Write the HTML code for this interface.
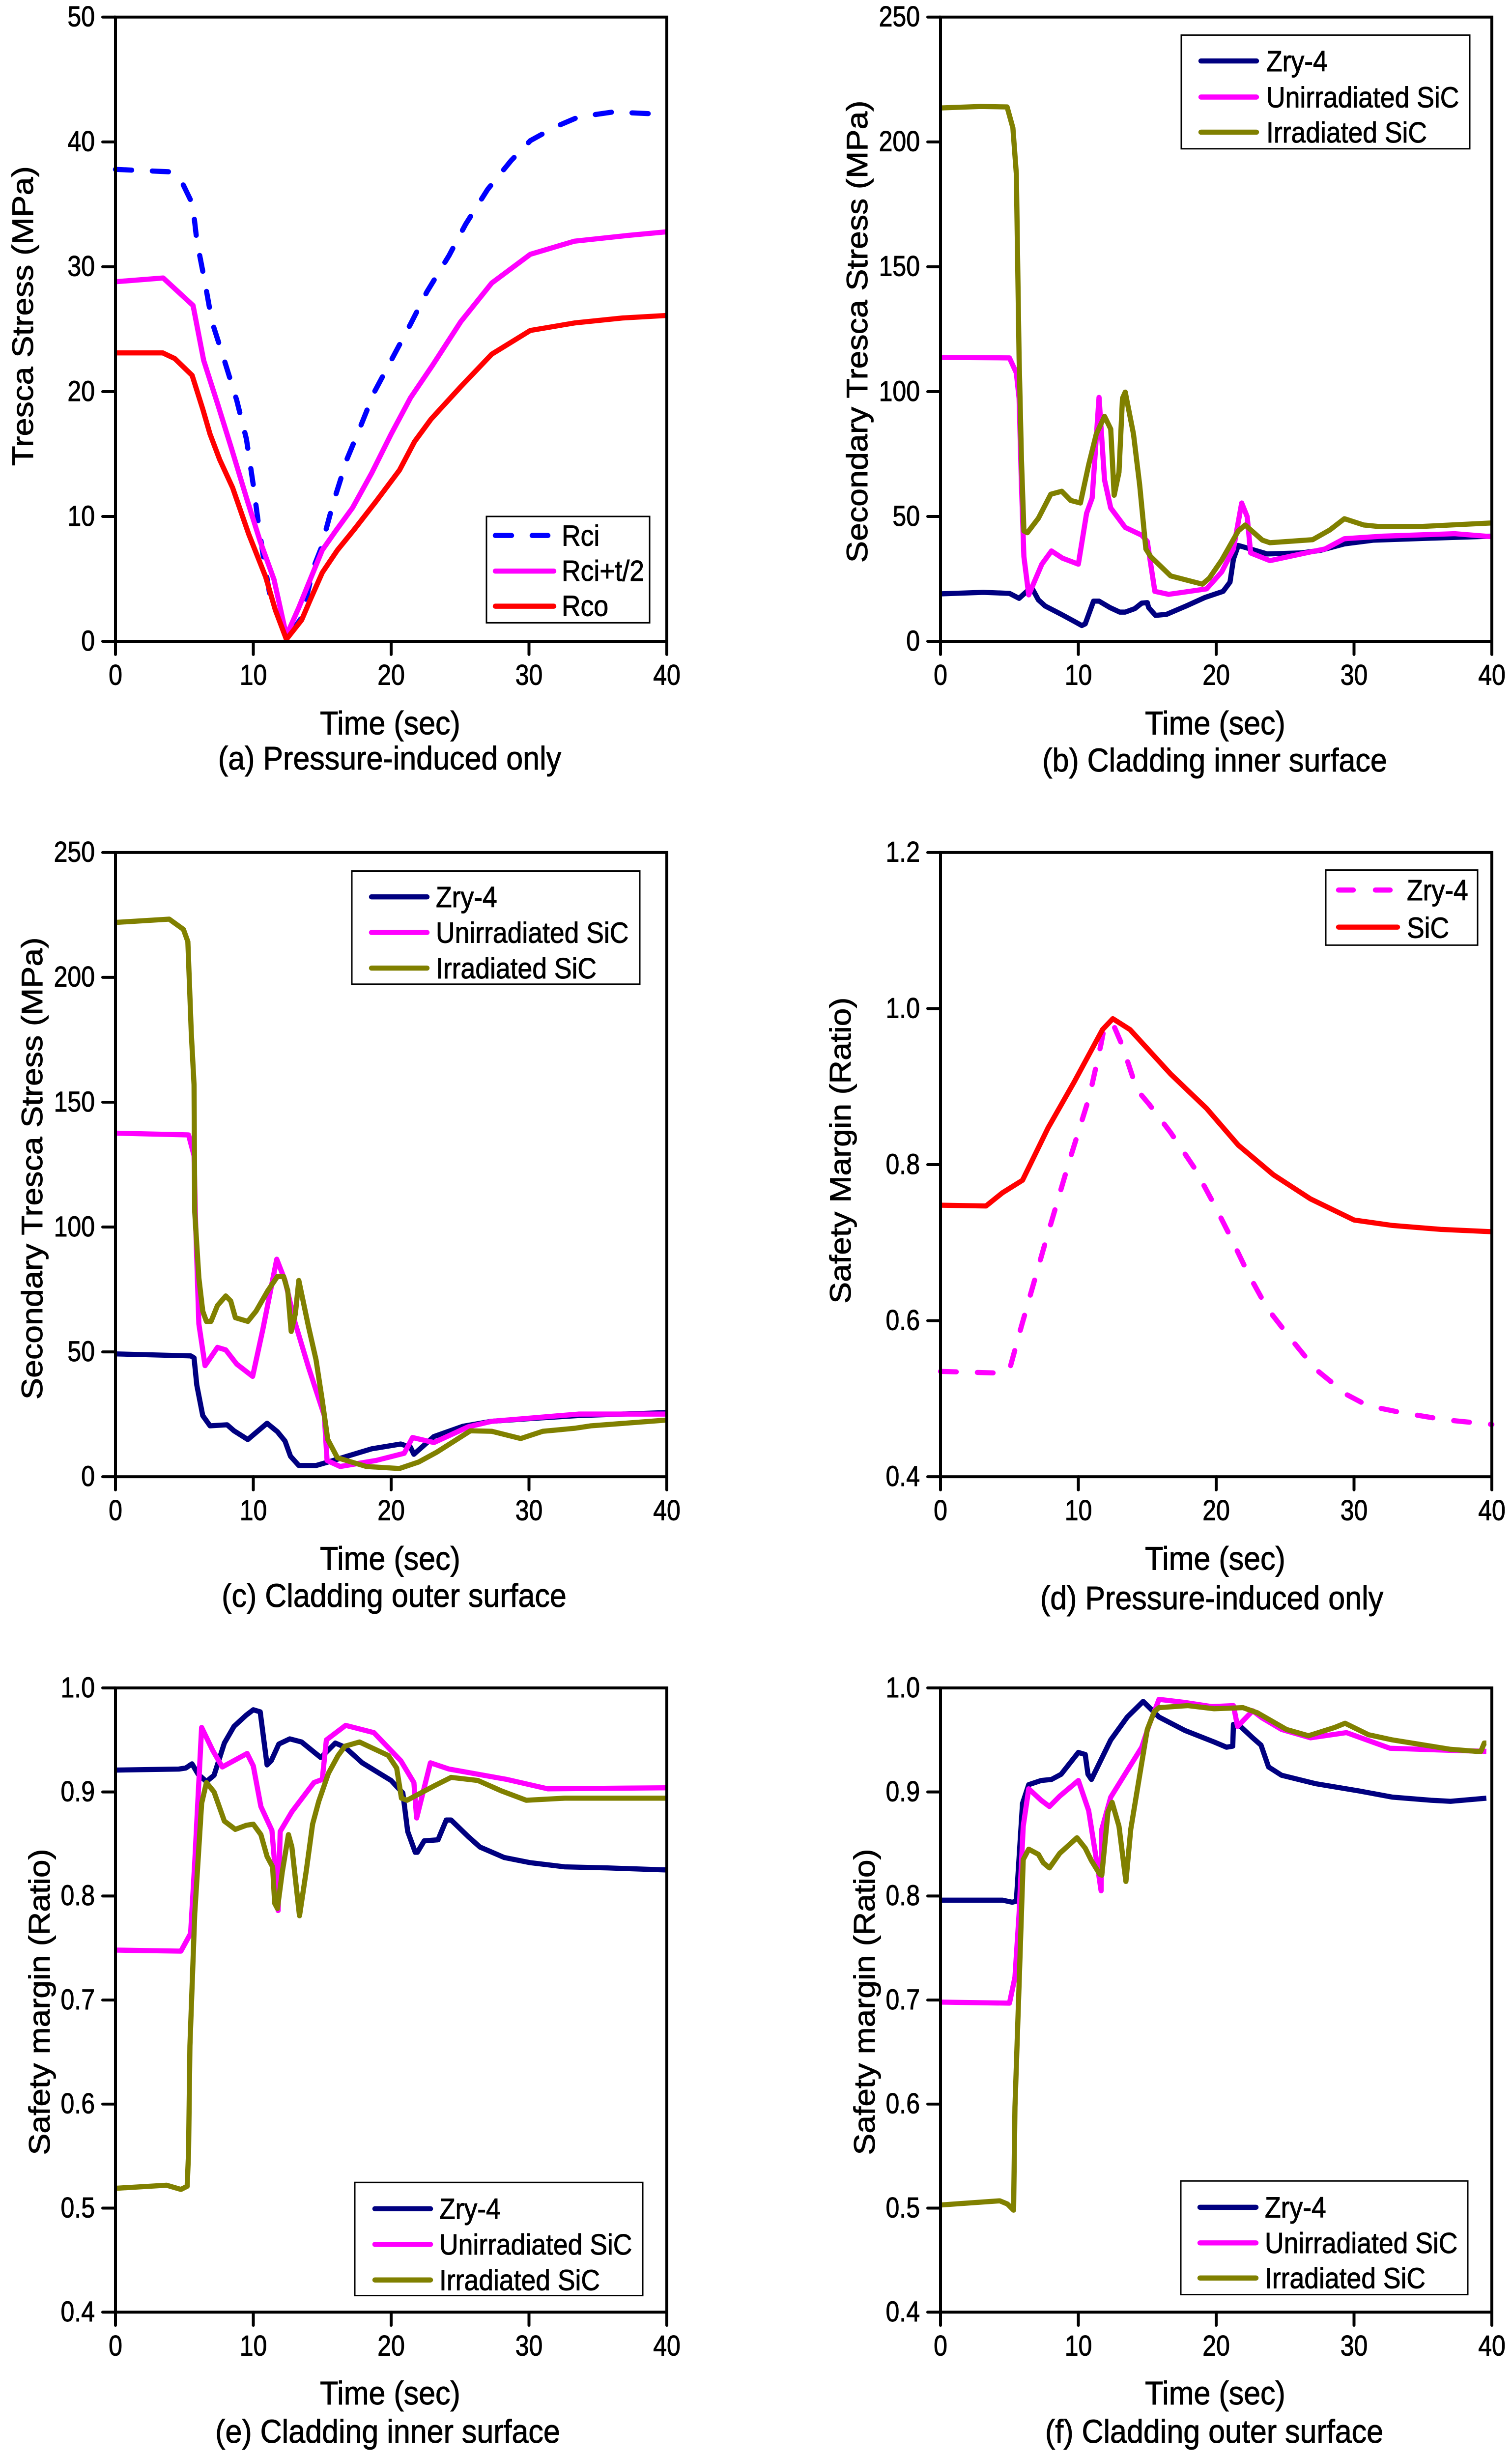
<!DOCTYPE html>
<html lang="en">
<head>
<meta charset="utf-8">
<title>Tresca stress and safety margin charts</title>
<style>
html,body{margin:0;padding:0;background:#fff;width:100%;height:100%;overflow:hidden;}
svg{display:block;position:absolute;left:0;top:0;width:100vw;height:100vh;overflow:hidden;}
text{font-family:"Liberation Sans",Arial,sans-serif;fill:#000;stroke:#000;stroke-width:0.9;}
.lbox{fill:#fff;stroke:#000;stroke-width:3;}
.leg{font-size:53.5px;}
.cap{font-size:61px;text-anchor:middle;}
.yt{font-size:60px;text-anchor:middle;}
.ll{stroke-width:10.5;stroke-linecap:round;fill:none;}
</style>
</head>
<body>
<svg id="figure" xmlns="http://www.w3.org/2000/svg" viewBox="0 0 3077 5038" preserveAspectRatio="none">
<rect width="3077" height="5038" fill="#fff"/>
<g id="marks"></g>

<!-- Panel a -->
<g>
<text class="yt" transform="translate(67,648) rotate(-90) scale(1.122,1)">Tresca Stress (MPa)</text>
<text class="cap" transform="translate(794,1506) scale(1,1.11)">Time (sec)</text>
<text class="cap" transform="translate(793,1578) scale(1,1.11)">(a) Pressure-induced only</text>
</g>
<g>
<rect class="lbox" x="990" y="1059" width="332" height="218"/>
<line class="ll" x1="1008" x2="1115" y1="1098" y2="1098" stroke="#0000ff" stroke-dasharray="33 42"/>
<line class="ll" x1="1008" x2="1127" y1="1171" y2="1171" stroke="#ff00ff"/>
<line class="ll" x1="1008" x2="1127" y1="1243" y2="1243" stroke="#ff0000"/>
<text class="leg" transform="translate(1143,1119) scale(1,1.12)">Rci</text>
<text class="leg" transform="translate(1143,1191) scale(1,1.12)">Rci+t/2</text>
<text class="leg" transform="translate(1143,1263) scale(1,1.12)">Rco</text>
</g>

<!-- Panel b -->
<g>
<text class="yt" transform="translate(1765,680) rotate(-90) scale(1.115,1)">Secondary Tresca Stress (MPa)</text>
<text class="cap" transform="translate(2473,1506) scale(1,1.11)">Time (sec)</text>
<text class="cap" transform="translate(2472,1582) scale(1,1.11)">(b) Cladding inner surface</text>
</g>
<g>
<rect class="lbox" x="2404" y="72" width="587" height="233"/>
<line class="ll" x1="2444" x2="2557" y1="125" y2="125" stroke="#000080"/>
<line class="ll" x1="2444" x2="2557" y1="199" y2="199" stroke="#ff00ff"/>
<line class="ll" x1="2444" x2="2557" y1="271" y2="271" stroke="#808000"/>
<text class="leg" transform="translate(2577,146) scale(1,1.12)">Zry-4</text>
<text class="leg" transform="translate(2577,220) scale(1,1.12)">Unirradiated SiC</text>
<text class="leg" transform="translate(2577,292) scale(1,1.12)">Irradiated SiC</text>
</g>

<!-- Panel c -->
<g>
<text class="yt" transform="translate(86,2396) rotate(-90) scale(1.115,1)">Secondary Tresca Stress (MPa)</text>
<text class="cap" transform="translate(794,3219) scale(1,1.11)">Time (sec)</text>
<text class="cap" transform="translate(802,3295) scale(1,1.11)">(c) Cladding outer surface</text>
</g>
<g>
<rect class="lbox" x="716" y="1786" width="586" height="232"/>
<line class="ll" x1="756" x2="869" y1="1839" y2="1839" stroke="#000080"/>
<line class="ll" x1="756" x2="869" y1="1912" y2="1912" stroke="#ff00ff"/>
<line class="ll" x1="756" x2="869" y1="1985" y2="1985" stroke="#808000"/>
<text class="leg" transform="translate(887,1860) scale(1,1.12)">Zry-4</text>
<text class="leg" transform="translate(887,1933) scale(1,1.12)">Unirradiated SiC</text>
<text class="leg" transform="translate(887,2006) scale(1,1.12)">Irradiated SiC</text>
</g>

<!-- Panel d -->
<g>
<text class="yt" transform="translate(1731,2359) rotate(-90) scale(1.108,1)">Safety Margin (Ratio)</text>
<text class="cap" transform="translate(2473,3219) scale(1,1.11)">Time (sec)</text>
<text class="cap" transform="translate(2466,3300) scale(1,1.11)">(d) Pressure-induced only</text>
</g>
<g>
<rect class="lbox" x="2698" y="1784" width="309" height="154"/>
<line class="ll" x1="2724" x2="2844" y1="1825" y2="1825" stroke="#ff00ff" stroke-dasharray="30 45"/>
<line class="ll" x1="2724" x2="2844" y1="1901" y2="1901" stroke="#ff0000"/>
<text class="leg" transform="translate(2863,1846) scale(1,1.12)">Zry-4</text>
<text class="leg" transform="translate(2863,1923) scale(1,1.12)">SiC</text>
</g>

<!-- Panel e -->
<g>
<text class="yt" transform="translate(101,4105) rotate(-90) scale(1.108,1)">Safety margin (Ratio)</text>
<text class="cap" transform="translate(794,4930) scale(1,1.11)">Time (sec)</text>
<text class="cap" transform="translate(789,5009) scale(1,1.11)">(e) Cladding inner surface</text>
</g>
<g>
<rect class="lbox" x="722" y="4475" width="586" height="232"/>
<line class="ll" x1="763" x2="876" y1="4529" y2="4529" stroke="#000080"/>
<line class="ll" x1="763" x2="876" y1="4602" y2="4602" stroke="#ff00ff"/>
<line class="ll" x1="763" x2="876" y1="4675" y2="4675" stroke="#808000"/>
<text class="leg" transform="translate(894,4550) scale(1,1.12)">Zry-4</text>
<text class="leg" transform="translate(894,4623) scale(1,1.12)">Unirradiated SiC</text>
<text class="leg" transform="translate(894,4696) scale(1,1.12)">Irradiated SiC</text>
</g>

<!-- Panel f -->
<g>
<text class="yt" transform="translate(1780,4105) rotate(-90) scale(1.108,1)">Safety margin (Ratio)</text>
<text class="cap" transform="translate(2473,4930) scale(1,1.11)">Time (sec)</text>
<text class="cap" transform="translate(2471,5009) scale(1,1.11)">(f) Cladding outer surface</text>
</g>
<g>
<rect class="lbox" x="2403" y="4472" width="584" height="233"/>
<line class="ll" x1="2442" x2="2556" y1="4526" y2="4526" stroke="#000080"/>
<line class="ll" x1="2442" x2="2556" y1="4599" y2="4599" stroke="#ff00ff"/>
<line class="ll" x1="2442" x2="2556" y1="4671" y2="4671" stroke="#808000"/>
<text class="leg" transform="translate(2574,4547) scale(1,1.12)">Zry-4</text>
<text class="leg" transform="translate(2574,4620) scale(1,1.12)">Unirradiated SiC</text>
<text class="leg" transform="translate(2574,4692) scale(1,1.12)">Irradiated SiC</text>
</g>
</svg>

<script>
// Tick labels
const timeTicks = ["0", "10", "20", "30", "40"];
const stress50Ticks = ["0", "10", "20", "30", "40", "50"];
const stress250Ticks = ["0", "50", "100", "150", "200", "250"];
const ratio12Ticks = ["0.4", "0.6", "0.8", "1.0", "1.2"];
const ratio10Ticks = ["0.4", "0.5", "0.6", "0.7", "0.8", "0.9", "1.0"];

// Panel a: pressure-induced Tresca stress (sec, MPa)
const aRciTime = [0,4.05,4.9,5.6,5.9,6.5,7,7.9,8.8,9.5,10,10.35,10.7,11.2,12.45,13.5,14.4,14.9,15.8,16.8,17.7,18.75,20,21.4,22.6,24.2,25.4,27,28.7,30.1,31.9,33.6,36.1,40];
const aRciStress = [37.8,37.6,36.6,35,32.1,28.7,25.6,22.5,19.3,16.2,12.5,9.6,7,3.7,0.2,1.9,6,7.4,11.1,14.6,17,19.9,22.5,25.4,28,30.9,33.4,36.2,38.5,40.1,41.2,42,42.4,42.2];
const aMidTime = [0,3.46,5.63,6.4,7.4,8.43,9.5,10.5,11.5,12.4,13.3,14.2,15,15.95,17.2,18.6,20,21.4,23,25.05,27.3,30.1,33.3,37.1,40];
const aMidStress = [28.8,29.1,26.9,22.5,19.05,15.4,11.5,8,4.95,0.45,2.7,5.15,7.3,8.8,10.7,13.5,16.6,19.5,22.1,25.6,28.7,31,32.05,32.5,32.8];
const aRcoTime = [0,3.43,4.3,5.56,6.33,6.86,7.56,8.5,9.66,10.9,11.6,12.4,13.5,14.2,15,16.1,17.35,18.9,20.6,21.7,22.9,25.05,27.3,30.1,33.3,36.8,40];
const aRcoStress = [23.1,23.1,22.65,21.3,18.6,16.6,14.55,12.3,8.6,5.15,2.5,0.16,1.7,3.5,5.5,7.3,9,11.2,13.7,16,17.8,20.4,23,24.9,25.5,25.9,26.1];

// Panel b: cladding inner surface secondary stress
const bZryTime = [0,3.1,5,5.7,6.6,7.1,7.6,8.7,9.7,10.25,10.5,11.1,11.5,12.3,13,13.4,14.1,14.6,15,15.1,15.6,16.4,17.8,19.2,20.5,21,21.25,21.6,22.1,23.7,26.15,27.55,29.3,31.4,35.6,40];
const bZryStress = [19,19.6,19.2,17.2,21.7,16.6,14.1,11,8,6.3,7,16.1,16.1,13.5,11.7,11.7,13.1,15.3,15.5,13.5,10.4,10.8,14.1,17.6,20,23.7,32.9,38.4,37.6,35,35.4,36.4,39,40.5,41.3,42.1];
const bUnTime = [0,5,5.5,5.7,5.87,6.05,6.4,7.35,8.05,8.85,10,10.6,11,11.5,11.9,12.35,13.4,14.6,15,15.55,16.55,19.3,20.4,21.25,21.85,22.25,22.5,23.9,26.5,27.9,29.3,32.1,37.3,40];
const bUnStress = [113.7,113.5,107.5,97.3,62.6,33.9,18.6,30.9,36.2,33.3,30.9,51.3,57.4,97.7,64.6,53.4,45.6,42.5,40,20,18.8,21,27.8,37,55.4,49.9,35.4,32.3,35.4,37,41.1,42.1,43.1,41.9];
const bIrTime = [0,2.9,4.83,5.25,5.5,5.7,5.87,6.05,6.3,7.1,8,8.8,9.45,10.15,10.75,11.3,11.9,12.35,12.6,12.95,13.2,13.4,14,14.45,14.9,15.25,16.7,19,19.5,20.4,21.6,22.1,23.35,23.9,27,28.25,29.3,30.7,31.75,34.9,40];
const bIrStress = [213.6,214.2,214,205.6,187.2,113.7,72.8,44.2,43.5,49.3,58.9,60.1,56.4,55.4,70.7,83,90.1,85,58.5,67.7,97.3,99.8,83,62.6,37,33.9,26.2,22.9,25.3,32.5,44.2,46.6,40.5,39.5,40.7,44.6,49.1,46.6,46,46,47.4];

// Panel c: cladding outer surface secondary stress
const cZryTime = [0,5.46,5.7,5.9,6.33,6.86,8.1,8.6,9.6,10.35,11,11.75,12.3,12.7,13.3,14.55,15.8,16.8,18.6,20.7,21.4,21.65,22.1,23.1,25.2,27.3,30.1,33.6,40];
const cZryStress = [49.2,48.4,47.6,36.7,24.5,20.4,20.8,18.4,14.9,18.4,21.4,18,14.3,8.2,4.5,4.5,6.5,8.2,11.2,13.1,11.8,9,11.2,16.1,20.2,22.2,23.3,24.5,25.7];
const cUnTime = [0,5.3,5.7,5.8,6.05,6.5,7.4,8,8.8,9.95,10.7,11.7,12.3,13,14,15.15,15.35,16.3,18.9,20.95,21.55,23.1,25.6,27.3,30.1,33.6,40];
const cUnStress = [137.6,136.9,128.6,104,61.2,44.5,51.8,50.8,45.1,40.2,59.2,87.1,78.6,62.2,43.9,24.5,6.5,4.1,6.5,9.4,15.7,13.7,20,22.2,23.5,25.1,25.1];
const cIrTime = [0,3.9,4.93,5.25,5.5,5.7,5.75,6.05,6.33,6.6,6.93,7.4,8,8.36,8.7,9.6,10.2,11.05,11.75,12.2,12.5,12.75,13.05,13.3,14,14.55,15,15.4,16.1,18.2,20.6,22,23.3,25.75,27.3,29.4,31,33.3,34.5,40];
const cIrStress = [222,223.3,219.2,214.3,177.6,157,106,79.6,66.3,62.2,62.2,68.6,72.4,70.4,63.7,62.2,66.3,74.5,80.2,80.2,74.5,58.2,65.3,78.6,60.2,46.9,30.6,14.9,7.6,4.1,3.3,5.9,9.8,18.4,18.2,15.3,18.2,19.4,20.4,22.7];

// Panel d: pressure-induced safety margin
const dZryTime = [0,4,5,5.87,7.6,9.35,10.8,11.65,11.9,12.5,13.2,14.25,15.15,16.7,18.45,19.85,21.05,22.3,23.7,25.45,27.2,29.5,31,33.5,36.6,40];
const dZryRatio = [0.535,0.533,0.537,0.593,0.7,0.805,0.887,0.955,0.978,0.981,0.952,0.896,0.877,0.841,0.795,0.749,0.707,0.661,0.616,0.576,0.538,0.505,0.491,0.482,0.473,0.467];
const dSicTime = [0,3.3,4.5,5.95,7.8,9.7,11.75,12.5,13.75,16.7,19.3,21.6,24.15,26.85,30,32.8,36.3,40];
const dSicRatio = [0.748,0.747,0.764,0.78,0.847,0.906,0.973,0.987,0.973,0.916,0.872,0.825,0.787,0.756,0.729,0.722,0.717,0.714];

// Panel e: cladding inner surface safety margin
const eZryTime = [0,4.6,5.1,5.55,6,6.6,7.15,7.9,8.6,9.5,10,10.5,11,11.3,11.85,12.65,13.5,14.9,15.95,16.65,17.9,20,20.85,21.2,21.75,21.9,22.4,23.4,24,24.35,25.6,26.45,28.2,30.1,32.6,35.7,40];
const eZryRatio = [0.921,0.922,0.923,0.927,0.917,0.91,0.916,0.947,0.963,0.974,0.979,0.977,0.926,0.93,0.946,0.951,0.948,0.933,0.947,0.943,0.928,0.911,0.899,0.862,0.842,0.842,0.853,0.854,0.873,0.873,0.857,0.847,0.837,0.832,0.828,0.827,0.825];
const eUnTime = [0,4.75,5.45,5.75,6.25,7.05,7.75,9.55,10,10.55,11.35,11.6,11.8,11.95,12.8,14.4,15,15.3,16.7,18.75,20.7,21.65,21.85,22.85,24.2,28.4,31.35,40];
const eUnRatio = [0.748,0.747,0.764,0.832,0.962,0.94,0.924,0.937,0.925,0.886,0.863,0.823,0.786,0.862,0.881,0.909,0.912,0.95,0.964,0.957,0.93,0.909,0.875,0.928,0.922,0.912,0.903,0.904];
const eIrTime = [0,3.7,4.75,5.2,5.3,5.4,5.75,6.25,6.6,7.15,7.9,8.7,9.5,10,10.55,11,11.4,11.55,11.75,12.1,12.55,12.8,13.35,13.85,14.3,14.75,15.45,16.15,16.65,17.7,19.8,20.4,20.75,21.15,23.15,24.35,26.3,28,29.8,32.6,40];
const eIrRatio = [0.519,0.522,0.518,0.521,0.553,0.656,0.783,0.889,0.909,0.9,0.872,0.864,0.868,0.869,0.859,0.838,0.828,0.793,0.788,0.823,0.859,0.847,0.781,0.825,0.869,0.891,0.918,0.935,0.944,0.948,0.935,0.923,0.894,0.892,0.906,0.914,0.911,0.901,0.892,0.894,0.894];

// Panel f: cladding outer surface safety margin
const fZryTime = [0,4.5,5.2,5.5,5.95,6.4,7.3,8.05,8.75,10,10.5,10.7,10.95,12.35,13.55,14.7,15.85,17.75,19.85,20.75,21.2,21.25,21.6,22.65,23.25,23.8,24.75,27.2,30.35,32.8,35.6,37,39.6];
const fZryRatio = [0.796,0.796,0.794,0.795,0.889,0.907,0.911,0.912,0.917,0.938,0.936,0.917,0.912,0.95,0.972,0.987,0.972,0.959,0.948,0.943,0.944,0.965,0.965,0.952,0.945,0.924,0.916,0.908,0.901,0.895,0.892,0.891,0.894];
const fUnTime = [0,5,5.4,5.7,6,6.4,7.3,7.9,8.65,10,10.75,11.45,11.65,11.7,12.35,14.6,15.15,15.85,17.75,19.7,21.25,21.55,22.65,23.35,24.75,26.85,29.45,32.6,37,39.6];
const fUnRatio = [0.698,0.697,0.722,0.783,0.867,0.903,0.892,0.886,0.896,0.911,0.882,0.823,0.805,0.864,0.895,0.943,0.965,0.989,0.986,0.982,0.983,0.963,0.978,0.971,0.96,0.952,0.957,0.942,0.94,0.939];
const fIrTime = [0,4.3,4.85,5.3,5.4,5.7,6,6.4,7.1,7.45,7.9,8.65,9.9,10.5,10.95,11.55,11.7,12.15,12.45,12.95,13.45,13.8,14.6,15,15.5,15.85,17.95,19.85,21.95,23,25.1,26.7,28.6,29.35,31.05,32.8,37,38.9,39.2,39.45,39.6];
const fIrRatio = [0.503,0.507,0.504,0.498,0.597,0.715,0.835,0.845,0.84,0.832,0.827,0.841,0.856,0.846,0.834,0.821,0.82,0.881,0.89,0.867,0.814,0.864,0.928,0.96,0.977,0.981,0.983,0.98,0.981,0.976,0.96,0.954,0.962,0.966,0.955,0.95,0.941,0.939,0.939,0.947,0.947];

const SVG_NS = "http://www.w3.org/2000/svg";
const NAVY = "#000080", MAGENTA = "#ff00ff", OLIVE = "#808000", RED = "#ff0000", BLUE = "#0000ff";
const marksRoot = document.getElementById("marks");

function drawPanel(id, left, top, yMin, yMax, yLabels, series) {
  const plotW = 1122, plotH = 1280;
  const xScale = function (t) { return left + (t / 40) * plotW; };
  const yScale = function (v) { return top + plotH - ((v - yMin) / (yMax - yMin)) * plotH; };
  const group = document.createElementNS(SVG_NS, "g");
  
  
  marksRoot.appendChild(group);

  series.forEach(function (s) {
    const path = document.createElementNS(SVG_NS, "path");
    
    
    let d = "";
    s.t.forEach(function (t, i) {
      d += (i ? "L" : "M") + xScale(t).toFixed(1) + " " + yScale(s.v[i]).toFixed(1);
    });
    path.setAttribute("d", d);
    path.setAttribute("fill", "none");
    path.setAttribute("stroke", s.color);
    path.setAttribute("stroke-width", "10.5");
    path.setAttribute("stroke-linejoin", "round");
    if (s.dash) {
      path.setAttribute("stroke-dasharray", s.dash);
      path.setAttribute("stroke-linecap", "round");
    }
    group.appendChild(path);
  });

  const frame = document.createElementNS(SVG_NS, "rect");
  
  
  frame.setAttribute("x", left);
  frame.setAttribute("y", top);
  frame.setAttribute("width", plotW);
  frame.setAttribute("height", plotH);
  frame.setAttribute("fill", "none");
  frame.setAttribute("stroke", "#000");
  frame.setAttribute("stroke-width", "6");
  group.appendChild(frame);

  timeTicks.forEach(function (label) {
    const x = xScale(parseFloat(label));
    const tick = document.createElementNS(SVG_NS, "line");
    
    
    tick.setAttribute("x1", x);
    tick.setAttribute("x2", x);
    tick.setAttribute("y1", top + plotH);
    tick.setAttribute("y2", top + plotH + 27);
    tick.setAttribute("stroke", "#000");
    tick.setAttribute("stroke-width", "6");
    tick.setAttribute("stroke-linecap", "round");
    group.appendChild(tick);
    const text = document.createElementNS(SVG_NS, "text");
    
    
    text.setAttribute("transform", "translate(" + x + "," + (top + plotH + 89) + ") scale(1,1.17)");
    text.setAttribute("font-size", "50");
    text.setAttribute("text-anchor", "middle");
    text.textContent = label;
    group.appendChild(text);
  });

  yLabels.forEach(function (label) {
    const y = yScale(parseFloat(label));
    const tick = document.createElementNS(SVG_NS, "line");
    
    
    tick.setAttribute("x1", left - 26);
    tick.setAttribute("x2", left);
    tick.setAttribute("y1", y);
    tick.setAttribute("y2", y);
    tick.setAttribute("stroke", "#000");
    tick.setAttribute("stroke-width", "6");
    tick.setAttribute("stroke-linecap", "round");
    group.appendChild(tick);
    const text = document.createElementNS(SVG_NS, "text");
    
    
    text.setAttribute("transform", "translate(" + (left - 42) + "," + (y + 19) + ") scale(1,1.17)");
    text.setAttribute("font-size", "50");
    text.setAttribute("text-anchor", "end");
    text.textContent = label;
    group.appendChild(text);
  });
}

drawPanel("a", 235, 35, 0, 50, stress50Ticks, [
  {name: "rci", t: aRciTime, v: aRciStress, color: BLUE, dash: "33 42"},
  {name: "rci-t2", t: aMidTime, v: aMidStress, color: MAGENTA},
  {name: "rco", t: aRcoTime, v: aRcoStress, color: RED}
]);
drawPanel("b", 1914, 35, 0, 250, stress250Ticks, [
  {name: "zry-4", t: bZryTime, v: bZryStress, color: NAVY},
  {name: "unirradiated-sic", t: bUnTime, v: bUnStress, color: MAGENTA},
  {name: "irradiated-sic", t: bIrTime, v: bIrStress, color: OLIVE}
]);
drawPanel("c", 235, 1748, 0, 250, stress250Ticks, [
  {name: "zry-4", t: cZryTime, v: cZryStress, color: NAVY},
  {name: "unirradiated-sic", t: cUnTime, v: cUnStress, color: MAGENTA},
  {name: "irradiated-sic", t: cIrTime, v: cIrStress, color: OLIVE}
]);
drawPanel("d", 1914, 1748, 0.4, 1.2, ratio12Ticks, [
  {name: "zry-4", t: dZryTime, v: dZryRatio, color: MAGENTA, dash: "32 43"},
  {name: "sic", t: dSicTime, v: dSicRatio, color: RED}
]);
drawPanel("e", 235, 3461, 0.4, 1.0, ratio10Ticks, [
  {name: "zry-4", t: eZryTime, v: eZryRatio, color: NAVY},
  {name: "unirradiated-sic", t: eUnTime, v: eUnRatio, color: MAGENTA},
  {name: "irradiated-sic", t: eIrTime, v: eIrRatio, color: OLIVE}
]);
drawPanel("f", 1914, 3461, 0.4, 1.0, ratio10Ticks, [
  {name: "zry-4", t: fZryTime, v: fZryRatio, color: NAVY},
  {name: "unirradiated-sic", t: fUnTime, v: fUnRatio, color: MAGENTA},
  {name: "irradiated-sic", t: fIrTime, v: fIrRatio, color: OLIVE}
]);
</script>
</body>
</html>
